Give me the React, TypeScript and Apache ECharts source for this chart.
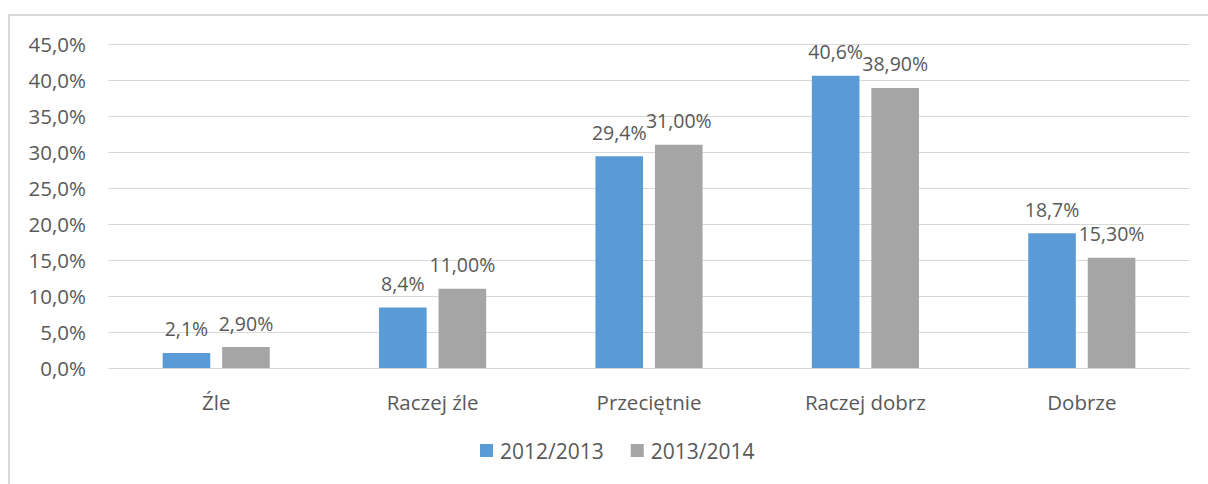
import React, { useEffect, useRef } from "react";
import * as echarts from "echarts";

const categories = ["Źle", "Raczej źle", "Przeciętnie", "Raczej dobrz", "Dobrze"];
const series1Name = "2012/2013";
const series2Name = "2013/2014";
const series1 = [2.1, 8.4, 29.4, 40.6, 18.7];
const series2 = [2.9, 11.0, 31.0, 38.9, 15.3];

const FONT = "'Open Sans', 'Noto Sans', sans-serif";
const TXT = "#595959";

export default function App() {
  const ref = useRef<HTMLDivElement>(null);
  useEffect(() => {
    if (!ref.current) return;
    const chart = echarts.init(ref.current, undefined, { renderer: "svg" });
    chart.setOption({
      animation: false,
      backgroundColor: "#ffffff",
      textStyle: { fontFamily: FONT },
      graphic: [
        {
          type: "rect",
          shape: { x: 9, y: 15, width: 1215, height: 480 },
          style: { fill: "none", stroke: "#d9d9d9", lineWidth: 2 },
          silent: true,
          z: -1,
        },
      ],
      grid: { left: 108, right: 18, top: 44, bottom: 116, containLabel: false },
      legend: {
        bottom: 18,
        left: 475,
        itemWidth: 13,
        itemHeight: 13,
        itemGap: 27,
        icon: "rect",
        textStyle: { color: TXT, fontSize: 21, fontFamily: FONT, padding: [0, 0, 0, 2] },
        data: [series1Name, series2Name],
      },
      xAxis: {
        type: "category",
        data: categories,
        axisLine: { lineStyle: { color: "#d9d9d9", width: 1 } },
        axisTick: { show: false },
        axisLabel: { color: TXT, fontSize: 20.5, margin: 23, fontFamily: FONT },
      },
      yAxis: {
        type: "value",
        min: 0,
        max: 45,
        interval: 5,
        axisLine: { show: false },
        axisTick: { show: false },
        splitLine: { lineStyle: { color: "#d9d9d9", width: 1 } },
        axisLabel: {
          color: TXT,
          fontSize: 20.5,
          margin: 22,
          fontFamily: FONT,
          formatter: (v: number) => v.toFixed(1).replace(".", ",") + "%",
        },
      },
      series: [
        {
          name: series1Name,
          type: "bar",
          data: series1,
          barWidth: "22%",
          barGap: "25%",
          itemStyle: { color: "#5b9bd5" },
          label: {
            show: true,
            position: "top",
            distance: 14,
            color: TXT,
            fontSize: 19.5,
            fontFamily: FONT,
            formatter: (p: any) => (p.value as number).toFixed(1).replace(".", ",") + "%",
          },
        },
        {
          name: series2Name,
          type: "bar",
          data: series2,
          barWidth: "22%",
          barGap: "25%",
          itemStyle: { color: "#a5a5a5" },
          label: {
            show: true,
            position: "top",
            distance: 14,
            color: TXT,
            fontSize: 19.5,
            fontFamily: FONT,
            formatter: (p: any) => (p.value as number).toFixed(2).replace(".", ",") + "%",
          },
        },
      ],
    });
    return () => chart.dispose();
  }, []);
  return <div ref={ref} style={{ width: 1208, height: 484, position: "absolute", left: 0, top: 0 }} />;
}
